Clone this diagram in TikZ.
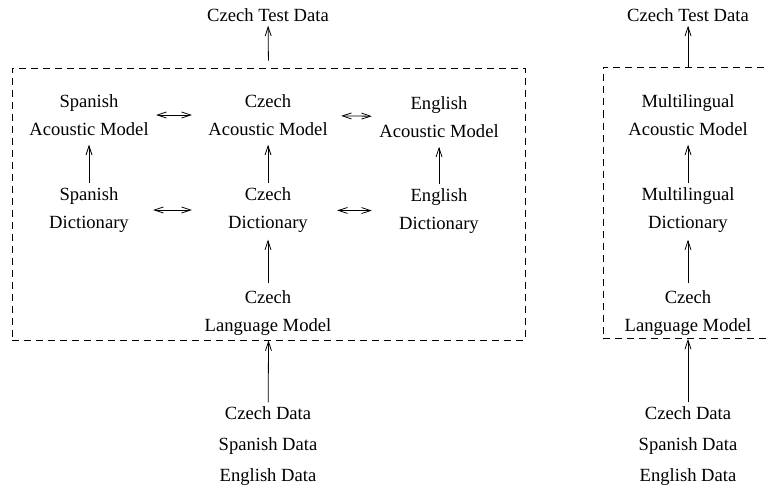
\documentclass[tikz,border=0pt]{standalone}
\usepackage{fontspec}
\setmainfont{Liberation Serif}
\usetikzlibrary{arrows.meta,positioning}

\begin{document}
\begin{tikzpicture}[x=1pt,y=-1pt,
  every node/.style={font=\fontsize{18.6}{28}\selectfont},
  lbl/.style={align=center,inner sep=4pt,minimum width=128pt},
  ends/.style={align=center,inner sep=4pt},
  frame/.style={draw,dash pattern=on 7pt off 5pt,line width=0.8pt,inner sep=0pt},
  flow/.style={-{Straight Barb[length=9pt,width=6pt]},line width=0.8pt},
  swap/.style={{Straight Barb[length=9pt,width=6pt]}-{Straight Barb[length=9pt,width=6pt]},line width=0.8pt}]
\useasboundingbox (0,0) rectangle (767,484);

% separate models per language
\node[frame,minimum width=513pt,minimum height=272pt] (lbox) at (268.5,204) {};
\node[ends] (lTest) at (268,15) {Czech Test Data};
\node[lbl] (spAM) at (89,115) {Spanish\\Acoustic Model};
\node[lbl] (czAM) at (268,115) {Czech\\Acoustic Model};
\node[lbl] (enAM) at (439,117) {English\\Acoustic Model};
\node[lbl] (spDict) at (89,210) {Spanish\\Dictionary};
\node[lbl] (czDict) at (268,210) {Czech\\Dictionary};
\node[lbl] (enDict) at (439,211) {English\\Dictionary};
\node[lbl] (czLM) at (268,313) {Czech\\Language Model};
\node[ends,font=\fontsize{18.6}{31}\selectfont] (lData) at (268,446) {Czech Data\\Spanish Data\\English Data};

\draw[flow,shorten <=7pt] (lbox.north) -- (lTest);
\draw[flow,shorten >=5pt] (spDict) -- (spAM);
\draw[flow,shorten >=5pt] (czDict) -- (czAM);
\draw[flow,shorten >=5pt] (enDict) -- (enAM);
\draw[flow,shorten <=3pt,shorten >=3pt] (czLM) -- (czDict);
\draw[flow] (lData) -- (lbox.south);
\draw[swap,shorten <=3pt,shorten >=12pt] (spAM) -- (czAM);
\draw[swap,shorten <=9pt,shorten >=3pt] (czAM) -- (enAM);
\draw[swap,shorten <=0pt,shorten >=12pt] (spDict) -- (czDict);
\draw[swap,shorten <=5pt,shorten >=3pt] (czDict) -- (enDict);

% one multilingual model
\node[frame,minimum width=197pt,minimum height=271pt] (rbox) at (701.5,203) {};
\node[ends] (rTest) at (688,15) {Czech Test Data};
\node[lbl] (mAM) at (688,115) {Multilingual\\Acoustic Model};
\node[lbl] (mDict) at (688,210) {Multilingual\\Dictionary};
\node[lbl] (mLM) at (688,313) {Czech\\Language Model};
\node[ends,font=\fontsize{18.6}{31}\selectfont] (rData) at (688,446) {Czech Data\\Spanish Data\\English Data};

\draw[flow] (mAM |- rbox.north) -- (rTest);
\draw[flow,shorten >=5pt] (mDict) -- (mAM);
\draw[flow,shorten <=3pt,shorten >=3pt] (mLM) -- (mDict);
\draw[flow] (rData) -- (rData |- rbox.south);
\end{tikzpicture}
\end{document}
